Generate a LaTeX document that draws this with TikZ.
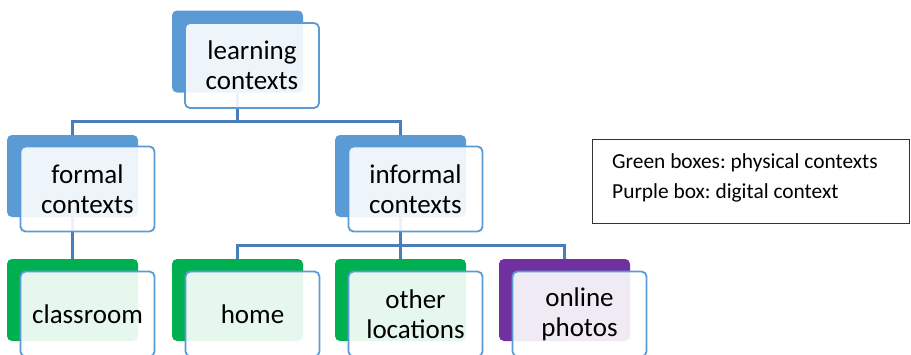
\documentclass[tikz,border=0pt]{standalone}
\usepackage{fontspec}
\setmainfont{Carlito}
\usetikzlibrary{calc}
\definecolor{cblue}{HTML}{5B9BD5}
\definecolor{cline}{HTML}{4A7EBB}
\definecolor{cgreen}{HTML}{00B050}
\definecolor{cpurple}{HTML}{7030A0}
\tikzset{
  backbox/.style={rectangle, rounded corners=5pt, minimum width=131pt, minimum height=82pt, inner sep=0pt},
  frontbox/.style={rectangle, rounded corners=5pt, draw=cblue, line width=1.8pt, fill=white, fill opacity=0.9, text opacity=1, minimum width=134pt, minimum height=85pt, align=center, font=\fontsize{27}{30}\selectfont, inner sep=0pt},
  conn/.style={draw=cline, line width=2.8pt},
  legendbox/.style={rectangle, draw=black!80, line width=0.9pt, minimum width=317pt, minimum height=84pt, inner sep=0pt}
}
\begin{document}
\frenchspacing
\begin{tikzpicture}[x=1pt,y=-1pt]
\useasboundingbox[fill=white] (0,0) rectangle (911,354);
% back boxes
\node[backbox, fill=cblue] (lc) at (237.5,51.5) {};
\node[backbox, fill=cblue] (fc) at (72.5,176) {};
\node[backbox, fill=cblue] (ic) at (400.5,176) {};
\node[backbox, fill=cgreen] (cr) at (72.5,300) {};
\node[backbox, fill=cgreen] (hm) at (237.5,300) {};
\node[backbox, fill=cgreen] (ol) at (400.5,300) {};
\node[backbox, fill=cpurple] (op) at (564.5,300) {};
% connectors
\coordinate (j1) at (237.5,121.5);
\coordinate (j2) at (400.5,245.5);
\draw[conn] (lc.south) -- (j1) -| (fc.north);
\draw[conn] (j1) -| (ic.north);
\draw[conn] (fc.south) -- (cr.north);
\draw[conn] (ic.south) -- (j2) -| (hm.north);
\draw[conn] (j2) -- (ol.north);
\draw[conn] (j2) -| (op.north);
% front boxes
\node[frontbox] (lcf) at ($(lc)+(14.5,14)$) {learning\\contexts};
\node[frontbox] (fcf) at ($(fc)+(15,13)$) {formal\\contexts};
\node[frontbox] (icf) at ($(ic)+(15,13)$) {informal\\contexts};
\node[frontbox] (crf) at ($(cr)+(15,14)$) {classroom};
\node[frontbox] (hmf) at ($(hm)+(15,14)$) {home};
\node[frontbox] (olf) at ($(ol)+(15,14)$) {other\\locations};
\node[frontbox] (opf) at ($(op)+(15,14)$) {online\\photos};
% legend
\node[legendbox] (legend) at (750.5,181) {};
\node[anchor=west, align=left, inner sep=0pt, font=\fontsize{21.4}{30}\selectfont] (legtxt) at (612,178) {Green boxes: physical contexts\\Purple box: digital context};
\end{tikzpicture}
\end{document}
